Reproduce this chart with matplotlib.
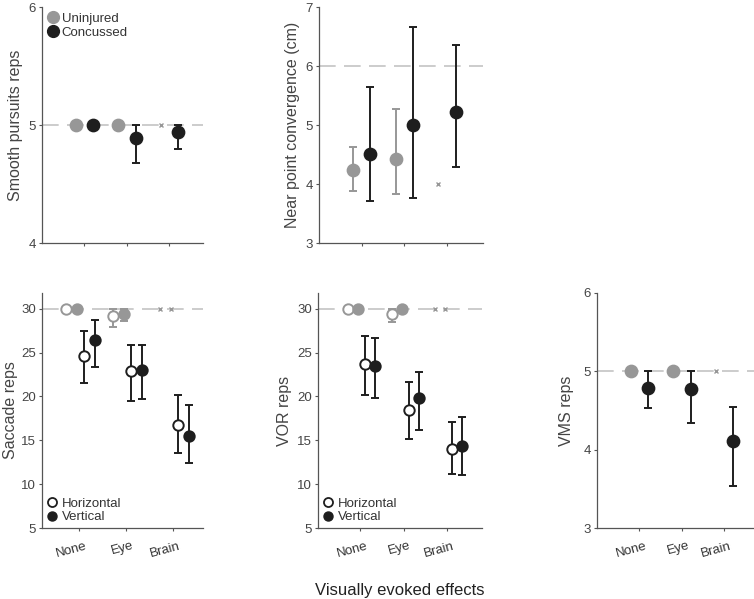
import numpy as np
import matplotlib
matplotlib.use('Agg')
import matplotlib.pyplot as plt
from matplotlib.lines import Line2D
from matplotlib.transforms import ScaledTranslation

plt.rcParams['font.family'] = ['Liberation Sans', 'DejaVu Sans']

groups = ['None', 'Eye', 'Brain']
few_uninjured = [False, False, True]  # drawn as a small x

# smooth pursuits reps
sp_uninj = [5.0, 5.0, 5.0]
sp_uninj_lo = [5.0, 5.0, 5.0]
sp_uninj_hi = [5.0, 5.0, 5.0]
sp_conc = [5.0, 4.89, 4.94]
sp_conc_lo = [5.0, 4.68, 4.80]
sp_conc_hi = [5.0, 5.0, 5.0]

# near point convergence (cm)
npc_uninj = [4.24, 4.42, 4.0]
npc_uninj_lo = [3.88, 3.83, 4.0]
npc_uninj_hi = [4.63, 5.28, 4.0]
npc_conc = [4.51, 5.01, 5.23]
npc_conc_lo = [3.71, 3.76, 4.29]
npc_conc_hi = [5.64, 6.67, 6.36]

# saccade reps
sac_uninj_h = [30.0, 29.2, 30.0]
sac_uninj_h_lo = [30.0, 27.9, 30.0]
sac_uninj_h_hi = [30.0, 30.0, 30.0]
sac_uninj_v = [30.0, 29.45, 30.0]
sac_uninj_v_lo = [30.0, 28.6, 30.0]
sac_uninj_v_hi = [30.0, 30.0, 30.0]
sac_conc_h = [24.6, 22.9, 16.7]
sac_conc_h_lo = [21.5, 19.5, 13.5]
sac_conc_h_hi = [27.5, 25.9, 20.15]
sac_conc_v = [26.4, 23.0, 15.5]
sac_conc_v_lo = [23.3, 19.7, 12.4]
sac_conc_v_hi = [28.7, 25.9, 19.0]

# VOR reps
vor_uninj_h = [30.0, 29.45, 30.0]
vor_uninj_h_lo = [30.0, 28.5, 30.0]
vor_uninj_h_hi = [30.0, 30.0, 30.0]
vor_uninj_v = [30.0, 30.0, 30.0]
vor_uninj_v_lo = [30.0, 30.0, 30.0]
vor_uninj_v_hi = [30.0, 30.0, 30.0]
vor_conc_h = [23.66, 18.4, 14.05]
vor_conc_h_lo = [20.15, 15.15, 11.15]
vor_conc_h_hi = [26.87, 21.7, 17.14]
vor_conc_v = [23.44, 19.77, 14.35]
vor_conc_v_lo = [19.85, 16.18, 11.07]
vor_conc_v_hi = [26.68, 22.82, 17.7]

# VMS reps
vms_uninj = [5.0, 5.0, 5.0]
vms_uninj_lo = [5.0, 5.0, 5.0]
vms_uninj_hi = [5.0, 5.0, 5.0]
vms_conc = [4.79, 4.77, 4.115]
vms_conc_lo = [4.53, 4.34, 3.53]
vms_conc_hi = [5.0, 5.0, 4.54]

GRAY = '#979797'
BLACK = '#1e1e1e'
REF = '#c4c4c4'
AXC = '#555555'


def style_axis(ax, ylim, yticks, xlim, ylabel, show_xlabels, labelpad=4):
    ax.set_xlim(*xlim)
    ax.set_ylim(*ylim)
    ax.set_yticks(yticks)
    ax.set_xticks([1, 2, 3])
    for s in ['top', 'right']:
        ax.spines[s].set_visible(False)
    for s in ['left', 'bottom']:
        ax.spines[s].set_color(AXC)
        ax.spines[s].set_linewidth(0.9)
    ax.tick_params(direction='out', length=2.5, width=0.8, color=AXC,
                   labelcolor='#444444', labelsize=9.5, pad=1.8)
    ax.tick_params(axis='x', pad=6)
    ax.set_ylabel(ylabel, fontsize=11.5, color='#444444', labelpad=labelpad)
    if show_xlabels:
        ax.set_xticklabels(groups, rotation=15, ha='right',
                           rotation_mode='anchor', fontsize=9.5, color='#333333')
        shift = ScaledTranslation(4 / 72, 0, fig.dpi_scale_trans)
        for lab in ax.get_xticklabels():
            lab.set_transform(lab.get_transform() + shift)
    else:
        ax.set_xticklabels([])


def draw_series(ax, xs, vals, lo, hi, color, face, ms, few=None):
    for i, (x, v, l, h) in enumerate(zip(xs, vals, lo, hi)):
        if few is not None and few[i]:
            ax.plot(x, v, 'x', color=GRAY, ms=3.2, mew=1.0, zorder=3)
            continue
        if h > l:
            ax.errorbar(x, v, yerr=[[v - l], [h - v]], fmt='none',
                        ecolor=color, elinewidth=1.4, capsize=3,
                        capthick=1.4, zorder=2)
        ax.plot(x, v, 'o', ms=ms, mfc=face, mec=color, mew=1.4, zorder=3)


def ref_line(ax, y):
    ax.axhline(y, color=REF, lw=1.2, dashes=(10, 5), zorder=1)


fig = plt.figure(figsize=(7.54, 5.99), dpi=100)

x = np.arange(1, 4)
off2 = [-0.2, 0.21]
off4 = [-0.28, -0.04, 0.11, 0.34]

# smooth pursuits
ax = fig.add_axes([0.0557, 0.594, 0.2135, 0.394])
ref_line(ax, 5)
draw_series(ax, x + off2[0], sp_uninj, sp_uninj_lo, sp_uninj_hi, GRAY, GRAY, 8.5, few_uninjured)
draw_series(ax, x + off2[1], sp_conc, sp_conc_lo, sp_conc_hi, BLACK, BLACK, 8.5)
style_axis(ax, (4, 6), [4, 5, 6], (0.0, 3.8), 'Smooth pursuits reps', False)
handles = [Line2D([], [], ls='', marker='o', ms=8.5, mfc=GRAY, mec=GRAY),
           Line2D([], [], ls='', marker='o', ms=8.5, mfc=BLACK, mec=BLACK)]
ax.legend(handles, ['Uninjured', 'Concussed'], loc='upper left', frameon=False,
          fontsize=9.5, handlelength=0.8, handletextpad=0.3, labelspacing=0.15,
          borderaxespad=0.0, borderpad=0.4, labelcolor='#333333')

# near point convergence
ax = fig.add_axes([0.423, 0.594, 0.2175, 0.394])
ref_line(ax, 6)
draw_series(ax, x + off2[0], npc_uninj, npc_uninj_lo, npc_uninj_hi, GRAY, GRAY, 8.5, few_uninjured)
draw_series(ax, x + off2[1], npc_conc, npc_conc_lo, npc_conc_hi, BLACK, BLACK, 8.5)
style_axis(ax, (3, 7), [3, 4, 5, 6, 7], (0.0, 3.85), 'Near point convergence (cm)', False)

# saccades and VOR
for pos, xlim, label, pad, series in [
        ([0.0557, 0.1185, 0.2135, 0.3925], (0.2, 3.65), 'Saccade reps', 2.5,
         [(sac_uninj_h, sac_uninj_h_lo, sac_uninj_h_hi),
          (sac_uninj_v, sac_uninj_v_lo, sac_uninj_v_hi),
          (sac_conc_h, sac_conc_h_lo, sac_conc_h_hi),
          (sac_conc_v, sac_conc_v_lo, sac_conc_v_hi)]),
        ([0.4218, 0.1185, 0.2175, 0.3925], (0.03, 3.8), 'VOR reps', 4,
         [(vor_uninj_h, vor_uninj_h_lo, vor_uninj_h_hi),
          (vor_uninj_v, vor_uninj_v_lo, vor_uninj_v_hi),
          (vor_conc_h, vor_conc_h_lo, vor_conc_h_hi),
          (vor_conc_v, vor_conc_v_lo, vor_conc_v_hi)])]:
    ax = fig.add_axes(pos)
    ref_line(ax, 30)
    colors = [(GRAY, 'white'), (GRAY, GRAY), (BLACK, 'white'), (BLACK, BLACK)]
    for k, (vals, lo, hi) in enumerate(series):
        few = few_uninjured if k < 2 else None
        draw_series(ax, x + off4[k], vals, lo, hi, colors[k][0], colors[k][1], 7.5, few)
    style_axis(ax, (5, 31.8), [5, 10, 15, 20, 25, 30], xlim, label, True, pad)
    handles = [Line2D([], [], ls='', marker='o', ms=6.5, mfc='white', mec=BLACK, mew=1.3),
               Line2D([], [], ls='', marker='o', ms=6.5, mfc=BLACK, mec=BLACK)]
    ax.legend(handles, ['Horizontal', 'Vertical'], loc='lower left', frameon=False,
              fontsize=9.5, handlelength=0.8, handletextpad=0.35, labelspacing=0.1,
              borderaxespad=0.0, borderpad=0.35, labelcolor='#333333')

# VMS
ax = fig.add_axes([0.7918, 0.1185, 0.2082, 0.3925])
ref_line(ax, 5)
draw_series(ax, x + off2[0], vms_uninj, vms_uninj_lo, vms_uninj_hi, GRAY, GRAY, 8.5, few_uninjured)
draw_series(ax, x + off2[1], vms_conc, vms_conc_lo, vms_conc_hi, BLACK, BLACK, 8.5)
style_axis(ax, (3, 6), [3, 4, 5, 6], (0.0, 3.7), 'VMS reps', True, 7)

fig.text(0.53, 0.015, 'Visually evoked effects', ha='center', va='center',
         fontsize=12, color='#222222')

fig.savefig('out.png', dpi=100)
